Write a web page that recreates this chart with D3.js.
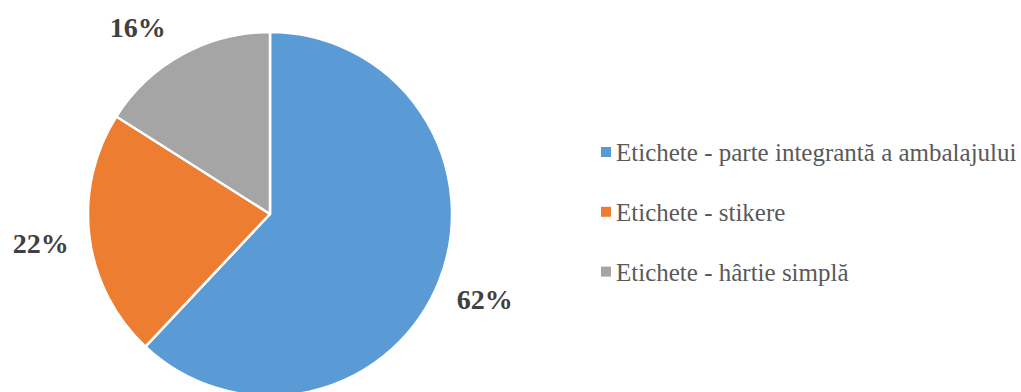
<!DOCTYPE html>
<html>
<head>
<meta charset="utf-8">
<script src="https://cdn.jsdelivr.net/npm/d3@7"></script>
<style>
  body{margin:0;background:#fff}
  svg{display:block}
</style>
</head>
<body>
<div id="chart"></div>
<script>
var categories = ["Etichete - parte integrantă a ambalajului", "Etichete - stikere", "Etichete - hârtie simplă"]
var values = [62, 22, 16]
var labels = ["62%", "22%", "16%"]
var colors = ["#5b9bd5", "#ed7d31", "#a5a5a5"]

initChart()
function initChart(){
  var width = 1021
  var height = 392
  var cx = 270, cy = 214, radius = 182
  var labelRadius = 231
  // excel best-fit nudges for the outside labels
  var nudge = [[0,0],[0,0],[-21,16]]
  var font = "'Liberation Serif', 'Times New Roman', serif"

  var svg = d3.select("#chart").append("svg")
      .attr("width", width)
      .attr("height", height)

  var pie = d3.pie().sort(null).value(function(d){return d})
  var arcs = pie(values)

  var arc = d3.arc().innerRadius(0).outerRadius(radius)
  var labelArc = d3.arc().innerRadius(labelRadius).outerRadius(labelRadius)

  var g = svg.append("g").attr("transform","translate("+cx+","+cy+")")

  g.selectAll("path")
    .data(arcs)
    .enter()
    .append("path")
    .attr("d", arc)
    .attr("fill", function(d,i){return colors[i]})
    .attr("stroke","#fff")
    .attr("stroke-width",2.5)
    .attr("stroke-linejoin","round")

  g.selectAll("text.lbl")
    .data(arcs)
    .enter()
    .append("text")
    .attr("class","lbl")
    .attr("x",function(d,i){return labelArc.centroid(d)[0]+nudge[i][0]})
    .attr("y",function(d,i){return labelArc.centroid(d)[1]+nudge[i][1]})
    .attr("dy","0.35em")
    .attr("text-anchor","middle")
    .attr("font-family",font)
    .attr("font-size",28)
    .attr("font-weight",700)
    .attr("fill","#404040")
    .text(function(d,i){return labels[i]})

  var legend = svg.append("g").attr("transform","translate(601,161)")
  var row = legend.selectAll("g")
    .data(categories)
    .enter()
    .append("g")
    .attr("transform",function(d,i){return "translate(0,"+(i*59.8)+")"})

  row.append("rect")
    .attr("x",0)
    .attr("y",-14)
    .attr("width",10)
    .attr("height",10)
    .attr("fill",function(d,i){return colors[i]})

  row.append("text")
    .attr("x",15)
    .attr("y",0)
    .attr("font-family",font)
    .attr("font-size",25)
    .attr("fill","#595959")
    .text(function(d){return d})
}
</script>
</body>
</html>
